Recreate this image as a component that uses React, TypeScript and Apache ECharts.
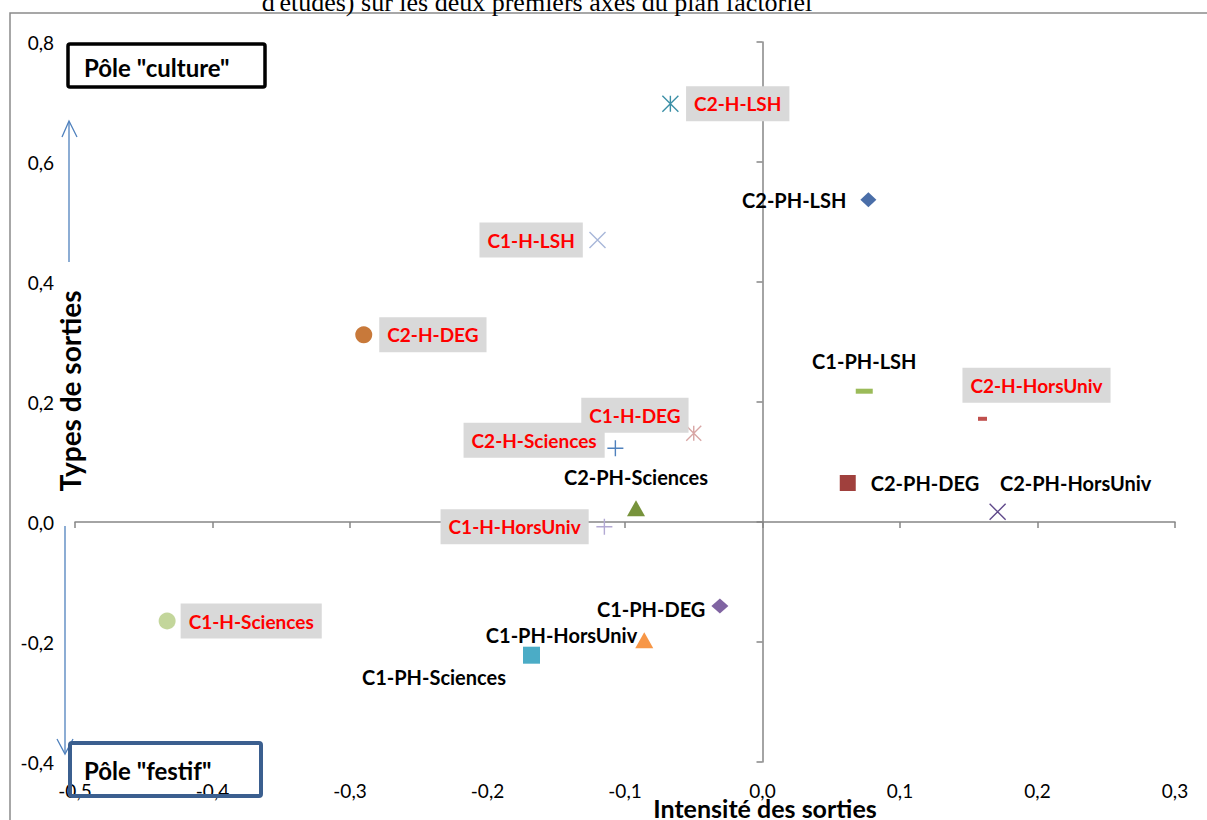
import React, { useEffect, useRef } from "react";
import * as echarts from "echarts";

// ---- Data ----
const names = [
  "C2-H-LSH",
  "C2-PH-LSH",
  "C1-H-LSH",
  "C2-H-DEG",
  "C1-PH-LSH",
  "C2-H-HorsUniv",
  "C1-H-DEG",
  "C2-H-Sciences",
  "C2-PH-Sciences",
  "C2-PH-DEG",
  "C2-PH-HorsUniv",
  "C1-H-HorsUniv",
  "C1-H-Sciences",
  "C1-PH-DEG",
  "C1-PH-HorsUniv",
  "C1-PH-Sciences",
];
const xValues = [
  -0.067, 0.077, -0.12, -0.29, 0.074, 0.16, -0.05, -0.107, -0.092, 0.062, 0.171,
  -0.115, -0.433, -0.031, -0.086, -0.168,
];
const yValues = [
  0.697, 0.537, 0.47, 0.312, 0.218, 0.172, 0.148, 0.123, 0.023, 0.065, 0.017,
  -0.008, -0.165, -0.14, -0.197, -0.222,
];
const xTicks = { min: -0.5, max: 0.3, interval: 0.1 };
const yTicks = { min: -0.4, max: 0.8, interval: 0.2 };
const titleText = "d'études) sur les deux premiers axes du plan factoriel";
const xAxisTitle = "Intensité des sorties";
const yAxisTitle = "Types de sorties";
const poleTop = 'Pôle "culture"';
const poleBottom = 'Pôle "festif"';

// ---- Styles ----
const CROSS = "path://M0,0L10,10M10,0L0,10";
const PLUS = "path://M5,0L5,10M0,5L10,5";
const STAR = "path://M0,0L10,10M10,0L0,10M5,0L5,10";

const MARKERS: any[] = [
  { symbol: STAR, size: 16, color: "#3b8fa6", line: true },
  { symbol: "diamond", size: [16, 15], color: "#4a6ea8" },
  { symbol: CROSS, size: 16, color: "#a7b6d9", line: true },
  { symbol: "circle", size: 17, color: "#c8793a" },
  { symbol: "rect", size: [17, 5], color: "#9bbb59" },
  { symbol: "rect", size: [9, 4], color: "#c0504d" },
  { symbol: STAR, size: 15, color: "#d8a5a4", line: true },
  { symbol: PLUS, size: 16, color: "#4f81bd", line: true },
  { symbol: "triangle", size: [18, 16], color: "#77933c" },
  { symbol: "rect", size: 16, color: "#a0403d" },
  { symbol: CROSS, size: 16, color: "#604a8b", line: true },
  { symbol: PLUS, size: 16, color: "#b3a9d3", line: true },
  { symbol: "circle", size: 17, color: "#c3d69b" },
  { symbol: "diamond", size: [17, 15], color: "#8064a2" },
  { symbol: "triangle", size: [18, 16], color: "#f79646" },
  { symbol: "rect", size: 17, color: "#4bacc6" },
];

const LABELS: any[] = [
  { position: "right", distance: 7 },
  { position: "left", distance: 14 },
  { position: "left", distance: 6 },
  { position: "right", distance: 7 },
  { position: "top", distance: 16 },
  { position: "top", distance: 14, offset: [54, 0] },
  { position: "left", distance: -3, offset: [0, -18] },
  { position: "left", distance: 2, offset: [0, -8] },
  { position: "top", distance: 12 },
  { position: "right", distance: 15 },
  { position: "top", distance: 9, offset: [78, 0] },
  { position: "left", distance: 7 },
  { position: "right", distance: 5 },
  { position: "left", distance: 6, offset: [0, 3] },
  { position: "left", distance: -2, offset: [0, -5] },
  { position: "left", distance: 17, offset: [0, 22] },
];

const FONT = "Lato, 'Noto Sans', sans-serif";
const AXIS_GRAY = "#868686";
const ARROW_BLUE = "#4f81bd";

const fmt = (v: number) =>
  Math.abs(v) < 1e-9 ? "0,0" : v.toFixed(1).replace(".", ",");

export default function App() {
  const ref = useRef<HTMLDivElement>(null);

  useEffect(() => {
    if (!ref.current) return;
    const chart = echarts.init(ref.current, undefined, { renderer: "svg" });

    const data = names.map((name, i) => {
      const m = MARKERS[i];
      const l = LABELS[i];
      const isH = name.includes("-H-");
      return {
        name,
        value: [xValues[i], yValues[i]],
        symbol: m.symbol,
        symbolSize: m.size,
        itemStyle: m.line
          ? { color: m.color, borderColor: m.color, borderWidth: 1.4, opacity: 1 }
          : { color: m.color, borderWidth: 0, opacity: 1 },
        label: {
          show: true,
          formatter: name,
          position: l.position,
          distance: l.distance,
          offset: l.offset || [0, 0],
          fontFamily: FONT,
          fontWeight: "bold",
          fontSize: isH ? 19 : 20,
          color: isH ? "#ff0000" : "#000000",
          backgroundColor: isH ? "#d9d9d9" : "transparent",
          padding: isH ? [6, 8, 6, 8] : 0,
          lineHeight: 23,
        },
      };
    });

    const option: any = {
      animation: false,
      backgroundColor: "#ffffff",
      grid: { left: 75, right: 32, top: 42, bottom: 58 },
      xAxis: [
        {
          type: "value",
          ...xTicks,
          position: "top",
          axisLine: {
            show: true,
            onZero: true,
            onZeroAxisIndex: 0,
            lineStyle: { color: AXIS_GRAY, width: 1.5 },
          },
          axisTick: {
            show: true,
            inside: true,
            length: 6,
            lineStyle: { color: AXIS_GRAY, width: 1.5 },
          },
          axisLabel: { show: false },
          splitLine: { show: false },
        },
        {
          type: "value",
          ...xTicks,
          position: "bottom",
          axisLine: { show: false, onZero: false },
          axisTick: { show: false },
          axisLabel: {
            formatter: fmt,
            margin: 19,
            fontFamily: FONT,
            fontSize: 19,
            color: "#000",
          },
          splitLine: { show: false },
        },
      ],
      yAxis: [
        {
          type: "value",
          ...yTicks,
          position: "right",
          axisLine: {
            show: true,
            onZero: true,
            onZeroAxisIndex: 0,
            lineStyle: { color: AXIS_GRAY, width: 1.5 },
          },
          axisTick: {
            show: true,
            inside: true,
            length: 6,
            lineStyle: { color: AXIS_GRAY, width: 1.5 },
          },
          axisLabel: { show: false },
          splitLine: { show: false },
        },
        {
          type: "value",
          ...yTicks,
          position: "left",
          axisLine: { show: false, onZero: false },
          axisTick: { show: false },
          axisLabel: {
            formatter: fmt,
            margin: 21,
            fontFamily: FONT,
            fontSize: 19,
            color: "#000",
          },
          splitLine: { show: false },
        },
      ],
      series: [
        {
          type: "scatter",
          xAxisIndex: 1,
          yAxisIndex: 1,
          data,
          z: 3,
        },
      ],
      graphic: [
        {
          type: "rect",
          silent: true,
          z: 0,
          shape: { x: 10, y: 13, width: 1230, height: 840 },
          style: { fill: "none", stroke: "#8a8a8a", lineWidth: 1.5 },
        },
        {
          type: "text",
          x: 537,
          y: 15,
          z: 100,
          style: {
            text: titleText,
            fontFamily: "'Liberation Serif', 'Times New Roman', serif",
            fontSize: 26,
            fill: "#000",
            textAlign: "center",
            textVerticalAlign: "bottom",
          },
        },
        {
          type: "line",
          z: 100,
          shape: { x1: 69, y1: 262, x2: 69, y2: 122 },
          style: { stroke: ARROW_BLUE, lineWidth: 1.3 },
        },
        {
          type: "polyline",
          z: 100,
          shape: { points: [[62, 137], [69, 121], [77, 137]] },
          style: { stroke: ARROW_BLUE, fill: "none", lineWidth: 1.3 },
        },
        {
          type: "line",
          z: 100,
          shape: { x1: 65, y1: 526, x2: 65, y2: 753 },
          style: { stroke: ARROW_BLUE, lineWidth: 1.3 },
        },
        {
          type: "polyline",
          z: 100,
          shape: { points: [[57, 739], [65, 754], [73, 739]] },
          style: { stroke: ARROW_BLUE, fill: "none", lineWidth: 1.3 },
        },
        {
          type: "rect",
          z: 110,
          shape: { x: 68, y: 44, width: 197, height: 43, r: 2 },
          style: { fill: "#ffffff", stroke: "#000000", lineWidth: 3.5 },
        },
        {
          type: "text",
          z: 120,
          x: 84,
          y: 67,
          style: {
            text: poleTop,
            fontFamily: FONT,
            fontWeight: "bold",
            fontSize: 24,
            fill: "#000",
            textAlign: "left",
            textVerticalAlign: "middle",
          },
        },
        {
          type: "rect",
          z: 110,
          shape: { x: 70, y: 743, width: 191, height: 53, r: 2 },
          style: { fill: "none", stroke: "#3b5f8f", lineWidth: 4 },
        },
        {
          type: "text",
          z: 120,
          x: 84,
          y: 770,
          style: {
            text: poleBottom,
            fontFamily: FONT,
            fontWeight: "bold",
            fontSize: 24,
            fill: "#000",
            textAlign: "left",
            textVerticalAlign: "middle",
          },
        },
        {
          type: "text",
          z: 100,
          x: 70,
          y: 391,
          rotation: Math.PI / 2,
          style: {
            text: yAxisTitle,
            fontFamily: FONT,
            fontWeight: "bold",
            fontSize: 28,
            fill: "#000",
            textAlign: "center",
            textVerticalAlign: "middle",
          },
        },
        {
          type: "text",
          z: 100,
          x: 765,
          y: 808,
          style: {
            text: xAxisTitle,
            fontFamily: FONT,
            fontWeight: "bold",
            fontSize: 25,
            fill: "#000",
            textAlign: "center",
            textVerticalAlign: "middle",
          },
        },
      ],
    };

    chart.setOption(option);
    return () => chart.dispose();
  }, []);

  return (
    <div
      ref={ref}
      style={{ position: "absolute", left: 0, top: 0, width: 1207, height: 820 }}
    />
  );
}
